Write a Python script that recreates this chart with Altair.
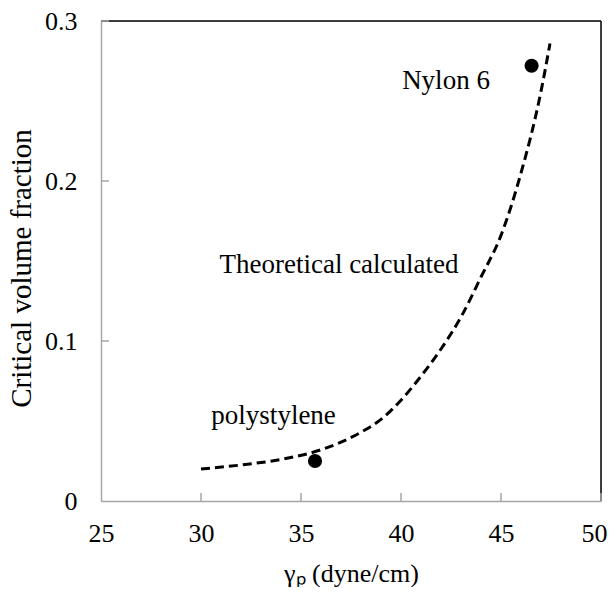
import altair as alt
import pandas as pd

# Theoretical curve
curve_x = [30, 32, 34, 36, 38, 39, 40, 41, 42, 43, 44, 45, 46, 47, 47.45]
curve_y = [0.020, 0.0225, 0.026, 0.032, 0.043, 0.051, 0.063, 0.078, 0.095,
           0.115, 0.140, 0.166, 0.205, 0.256, 0.286]

# Measured points
pt_names = ["polystylene", "Nylon 6"]
pt_x = [35.7, 46.53]
pt_y = [0.025, 0.272]

# Annotations
lab_text = ["Nylon 6", "Theoretical calculated", "polystylene"]
lab_x = [42.25, 36.9, 33.63]
lab_y = [0.2575, 0.1425, 0.048]

x_ticks = [30, 35, 40, 45, 50]
y_ticks = [0.1, 0.2, 0.3]

FONT = "Liberation Serif"
GRAY = "#a6a6a6"
FS = 26
W, H = 500, 480

xs = alt.Scale(domain=[25, 50], nice=False)
ys = alt.Scale(domain=[0, 0.3], nice=False)

curve_df = pd.DataFrame({"x": curve_x, "y": curve_y})
pts_df = pd.DataFrame({"name": pt_names, "x": pt_x, "y": pt_y})
lab_df = pd.DataFrame({"t": lab_text, "x": lab_x, "y": lab_y})
xt_df = pd.DataFrame({"x": x_ticks})
yt_df = pd.DataFrame({"y": y_ticks})

base_x = alt.X("x:Q", scale=xs,
               axis=alt.Axis(values=[25, 30, 35, 40, 45, 50], title="γₚ (dyne/cm)",
                             ticks=False, grid=False, domainColor=GRAY, domainWidth=1.5,
                             labelFont=FONT, labelFontSize=FS, labelColor="black",
                             labelFlush=False, labelOverlap=False,
                             labelOffset={"condition": {"test": "datum.value == 50", "value": -7},
                                          "value": 0},
                             labelPadding=19, titleFont=FONT, titleFontSize=FS,
                             titleFontWeight="normal", titleColor="black", titlePadding=14))
base_y = alt.Y("y:Q", scale=ys,
               axis=alt.Axis(values=[0, 0.1, 0.2, 0.3], format="~g", title="Critical volume fraction",
                             ticks=False, grid=False, domainColor=GRAY, domainWidth=1.5,
                             labelFont=FONT, labelFontSize=FS, labelColor="black",
                             labelFlush=False, labelOverlap=False,
                             labelPadding=24, titleFont=FONT, titleFontSize=29,
                             titleFontWeight="normal", titleColor="black", titlePadding=8,
                             titleY=247))

line = alt.Chart(curve_df).mark_line(color="black", strokeWidth=3, strokeDash=[9, 5],
                                     interpolate="monotone").encode(x=base_x, y=base_y)

points = alt.Chart(pts_df).mark_point(filled=True, color="black", size=200, opacity=1).encode(
    x=alt.X("x:Q", scale=xs), y=alt.Y("y:Q", scale=ys))

labels = alt.Chart(lab_df).mark_text(font=FONT, fontSize=27, color="black",
                                     align="center", baseline="alphabetic").encode(
    x=alt.X("x:Q", scale=xs), y=alt.Y("y:Q", scale=ys), text="t:N")

top_border = alt.Chart(pd.DataFrame({"a": [0]})).mark_rule(color="black", strokeWidth=1.5).encode(
    x=alt.value(0), x2=alt.value(W), y=alt.value(0))
right_border = alt.Chart(pd.DataFrame({"a": [0]})).mark_rule(color="black", strokeWidth=1.5).encode(
    x=alt.value(W), y=alt.value(0), y2=alt.value(H))

xticks = alt.Chart(xt_df).mark_rule(color=GRAY, strokeWidth=1.5).encode(
    x=alt.X("x:Q", scale=xs), y=alt.value(H), y2=alt.value(H - 8))
yticks = alt.Chart(yt_df).mark_rule(color=GRAY, strokeWidth=1.5).encode(
    y=alt.Y("y:Q", scale=ys), x=alt.value(0), x2=alt.value(8))

chart = alt.layer(top_border, right_border, xticks, yticks, line, points, labels).properties(
    width=W, height=H,
    autosize=alt.AutoSizeParams(type="none"),
    padding={"left": 93, "top": 13, "right": 7, "bottom": 86},
).configure_view(stroke=None).configure(background="white")

chart.save("out.html", embed_options={"renderer": "svg", "actions": False})
